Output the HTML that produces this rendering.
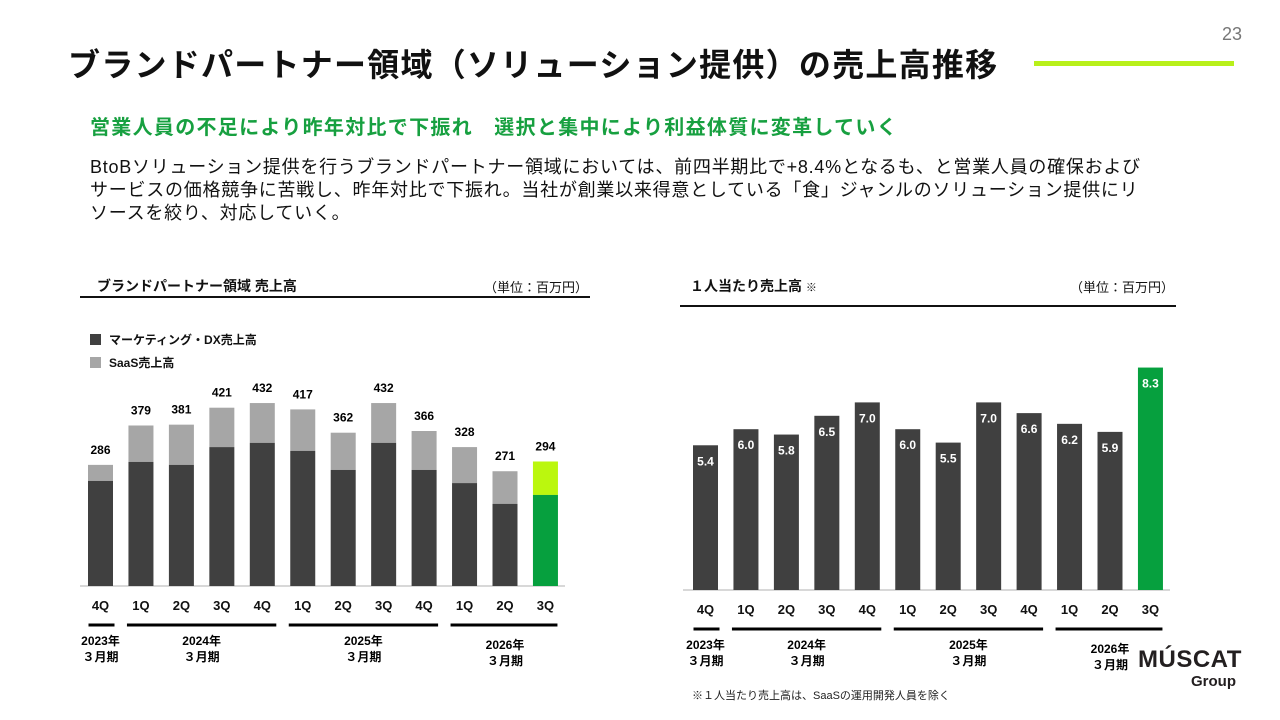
<!DOCTYPE html>
<html><head><meta charset="utf-8"><style>
body{margin:0;width:1280px;height:720px;background:#fff;position:relative;overflow:hidden;font-family:"Liberation Sans","Noto Sans CJK JP",sans-serif;color:#111}
.a{position:absolute;white-space:nowrap}
svg text{font-family:"Liberation Sans","Noto Sans CJK JP",sans-serif}
</style></head><body>
<div class="a" style="left:1222px;top:24px;font-size:18px;color:#777">23</div>
<div class="a" style="left:68px;top:40px;font-size:32px;font-weight:bold;letter-spacing:1.25px">ブランドパートナー領域（ソリューション提供）の売上高推移</div>
<div class="a" style="left:1034px;top:61px;width:200px;height:5px;background:#b8f01a"></div>
<div class="a" style="left:90px;top:111px;font-size:20px;font-weight:bold;color:#17a040;letter-spacing:1.3px">営業人員の不足により昨年対比で下振れ　選択と集中により利益体質に変革していく</div>
<div class="a" style="left:90px;top:156px;font-size:18px;line-height:23px;color:#111;letter-spacing:0.75px">BtoBソリューション提供を行うブランドパートナー領域においては、前四半期比で+8.4%となるも、と営業人員の確保および<br>サービスの価格競争に苦戦し、昨年対比で下振れ。当社が創業以来得意としている「食」ジャンルのソリューション提供にリ<br>ソースを絞り、対応していく。</div>

<div class="a" style="left:97px;top:276px;font-size:14px;font-weight:bold">ブランドパートナー領域 売上高</div>
<div class="a" style="left:484px;top:277px;font-size:13px">（単位：百万円）</div>
<div class="a" style="left:80px;top:296px;width:510px;height:2px;background:#111"></div>
<div class="a" style="left:90px;top:331px;font-size:12px;font-weight:bold"><span style="display:inline-block;width:11px;height:11px;background:#404040;vertical-align:-1px;margin-right:8px"></span>マーケティング・DX売上高</div>
<div class="a" style="left:90px;top:354px;font-size:12px;font-weight:bold"><span style="display:inline-block;width:11px;height:11px;background:#a6a6a6;vertical-align:-1px;margin-right:8px"></span>SaaS売上高</div>

<div class="a" style="left:690px;top:276px;font-size:14px;font-weight:bold">１人当たり売上高 <span style="font-size:11px">※</span></div>
<div class="a" style="left:1070px;top:277px;font-size:13px">（単位：百万円）</div>
<div class="a" style="left:680px;top:305px;width:496px;height:2px;background:#111"></div>
<div class="a" style="left:692px;top:687px;font-size:11px;color:#222">※１人当たり売上高は、SaaSの運用開発人員を除く</div>

<div class="a" style="left:1138px;top:648px;width:98px;text-align:right;color:#231f20;font-weight:bold;line-height:1">
<div style="font-size:24px;letter-spacing:0.5px">MÚSCAT</div><div style="font-size:15px;margin-top:2px">Group</div></div>

<svg class="a" style="left:0;top:0" width="1280" height="720" id="charts"></svg>
<script>
const quarters=["4Q","1Q","2Q","3Q","4Q","1Q","2Q","3Q","4Q","1Q","2Q","3Q"];
const totals=[286,379,381,421,432,417,362,432,366,328,271,294];
const dxValues=[248,293,286,328,338,319,274,338,274,243,194,215];
const perPerson=[5.4,6.0,5.8,6.5,7.0,6.0,5.5,7.0,6.6,6.2,5.9,8.3];
const years=[["2023年","３月期",0,0],["2024年","３月期",1,4],["2025年","３月期",5,8],["2026年","３月期",9,11]];
const NS="http://www.w3.org/2000/svg";
const svg=document.getElementById('charts');
function mk(t,a,txt){const e=document.createElementNS(NS,t);for(const k in a)e.setAttribute(k,a[k]);if(txt!=null)e.textContent=txt;svg.appendChild(e);return e;}
const step=40.45,bw=25;
const lx=i=>100.5+i*step, ly=v=>586-v*0.4235;
const rx=i=>705.5+i*step, ry=v=>590-v*26.8;
function axis(cx,base,x0,x1,prefix){
  let e=mk('line',{x1:x0,x2:x1,y1:base,y2:base,stroke:'#ccc','stroke-width':1.5});
  
  quarters.forEach((q,i)=>{
    let t=mk('text',{x:cx(i),y:base+24,'text-anchor':'middle','font-size':13,'font-weight':'bold',fill:'#111'},q);
    
  });
  years.forEach(y=>{
    let a=cx(y[2])-(y[2]==0?12:14),b=cx(y[3])+(y[3]==11?12:14);
    let l=mk('line',{x1:a,x2:b,y1:base+39,y2:base+39,stroke:'#000','stroke-width':3});
    
    let m=(cx(y[2])+cx(y[3]))/2, off=y[2]==9?4:0;
    let t1=mk('text',{x:m,y:base+59+off,'text-anchor':'middle','font-size':12,'font-weight':'bold'},y[0]);
    
    let t2=mk('text',{x:m,y:base+75+off,'text-anchor':'middle','font-size':12,'font-weight':'bold'},y[1]);
    
  });
}
axis(lx,586,80,565,'left');
totals.forEach((v,i)=>{
  const last=i==totals.length-1,x=lx(i)-bw/2;
  let s=mk('rect',{x:x,y:ly(v),width:bw,height:ly(dxValues[i])-ly(v),fill:last?'#bbf70e':'#a6a6a6'});
  
  let d=mk('rect',{x:x,y:ly(dxValues[i]),width:bw,height:586-ly(dxValues[i]),fill:last?'#06a03e':'#404040'});
  
  let t=mk('text',{x:lx(i),y:ly(v)-11,'text-anchor':'middle','font-size':12,'font-weight':'bold'},String(v));
  
});
axis(rx,590,683,1170,'right');
perPerson.forEach((v,i)=>{
  const last=i==perPerson.length-1;
  let r=mk('rect',{x:rx(i)-bw/2,y:ry(v),width:bw,height:590-ry(v),fill:last?'#06a03e':'#404040'});
  
  let t=mk('text',{x:rx(i),y:ry(v)+20,'text-anchor':'middle','font-size':12,'font-weight':'bold',fill:'#fff'},v.toFixed(1));
  
});
</script>
</body></html>
